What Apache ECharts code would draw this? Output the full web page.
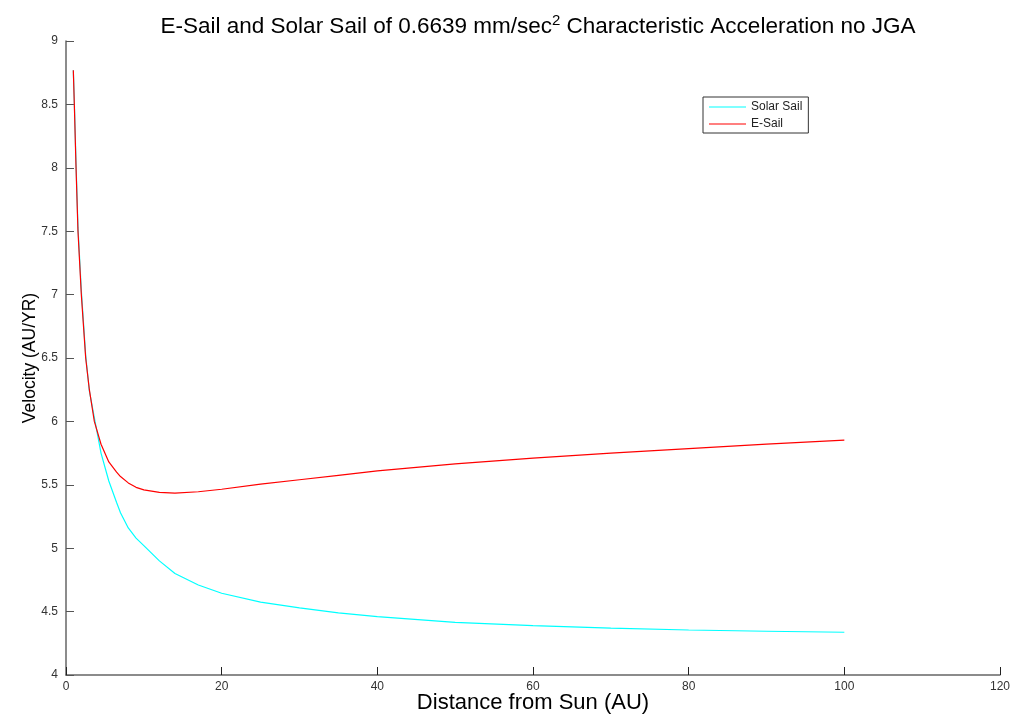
<!DOCTYPE html>
<html>
<head>
<meta charset="utf-8">
<script src="https://cdn.jsdelivr.net/npm/echarts@6/dist/echarts.min.js"></script>
<style>
html, body { margin: 0; padding: 0; background: #fff; }
#chart { width: 1028px; height: 721px; }
</style>
</head>
<body>
<div id="chart"></div>
<script>
// distance from sun (AU)
let distAU = [0.94, 1.07, 1.29, 1.54, 1.97, 2.53, 3.0, 3.64, 4.5, 5.5, 6.5, 7, 8, 9, 10, 12, 14, 17, 20, 25, 30, 35, 40, 50, 60, 70, 80, 90, 100]
// velocity (AU/YR)
let solarSail = [8.77, 8.52, 8.03, 7.53, 7.03, 6.52, 6.24, 6.03, 5.75, 5.53, 5.36, 5.28, 5.16, 5.08, 5.02, 4.9, 4.8, 4.71, 4.645, 4.575, 4.53, 4.49, 4.46, 4.415, 4.39, 4.37, 4.355, 4.345, 4.337]
let eSail = [8.77, 8.5, 8.0, 7.5, 7.0, 6.5, 6.25, 6.0, 5.82, 5.68, 5.6, 5.565, 5.515, 5.48, 5.46, 5.44, 5.435, 5.445, 5.465, 5.505, 5.54, 5.575, 5.61, 5.665, 5.71, 5.75, 5.785, 5.82, 5.853]

let names = ['Solar Sail', 'E-Sail']
let colors = ['#00ffff', '#ff0000']

let pairs = (ys) => distAU.map((x, i) => [x, ys[i]])

let myChart = echarts.init(document.getElementById('chart'))
let axisColor = '#666'
let option = {
    animation: false,
    backgroundColor: '#fff',
    title: {
        text: 'E-Sail and Solar Sail of 0.6639 mm/sec{sup|2} Characteristic Acceleration no JGA',
        left: 533,
        textAlign: 'center',
        top: 8,
        textStyle: {
            fontFamily: 'Liberation Sans',
            fontWeight: 'normal',
            fontSize: 22.5,
            color: '#000',
            rich: {
                sup: { fontSize: 15, verticalAlign: 'top', padding: [0, 0, 12, 0], fontFamily: 'Liberation Sans', color: '#000' }
            }
        }
    },
    legend: {
        data: names,
        orient: 'vertical',
        left: 703,
        top: 97,
        icon: 'rect',
        itemWidth: 37,
        itemHeight: 1,
        itemGap: 5,
        padding: [4, 6, 3, 6],
        borderColor: '#333',
        borderWidth: 1,
        backgroundColor: '#fff',
        textStyle: { fontFamily: 'Liberation Sans', fontSize: 12, color: '#222' }
    },
    grid: { left: 66, right: 28, top: 41, bottom: 46, outerBoundsMode: 'none', containLabel: false },
    xAxis: {
        type: 'value',
        min: 0, max: 120, interval: 20,
        name: 'Distance from Sun (AU)',
        nameLocation: 'middle',
        nameMoveOverlap: false,
        nameGap: 17,
        nameTextStyle: { fontFamily: 'Liberation Sans', fontSize: 22, color: '#000' },
        axisLine: { lineStyle: { color: axisColor, width: 1.5 } },
        axisTick: { inside: true, length: 8, lineStyle: { color: '#222' } },
        axisLabel: { fontFamily: 'Liberation Sans', fontSize: 12, color: '#333', margin: 6 },
        splitLine: { show: false }
    },
    yAxis: {
        type: 'value',
        min: 4, max: 9, interval: 0.5,
        name: 'Velocity (AU/YR)',
        nameLocation: 'middle',
        nameMoveOverlap: false,
        nameGap: 27,
        nameTextStyle: { fontFamily: 'Liberation Sans', fontSize: 17.5, color: '#000' },
        axisLine: { show: true, lineStyle: { color: axisColor, width: 1.5 } },
        axisTick: { show: true, inside: true, length: 8, lineStyle: { color: '#555' } },
        axisLabel: { fontFamily: 'Liberation Sans', fontSize: 12, color: '#333', margin: 8 },
        splitLine: { show: false }
    },
    series: [
        {
            name: names[0],
            type: 'line',
            data: pairs(solarSail),
            showSymbol: false,
            lineStyle: { width: 1.2, color: colors[0] },
            itemStyle: { color: colors[0] }
        },
        {
            name: names[1],
            type: 'line',
            data: pairs(eSail),
            showSymbol: false,
            lineStyle: { width: 1.2, color: colors[1] },
            itemStyle: { color: colors[1] }
        }
    ]
}
myChart.setOption(option)
</script>
</body>
</html>
